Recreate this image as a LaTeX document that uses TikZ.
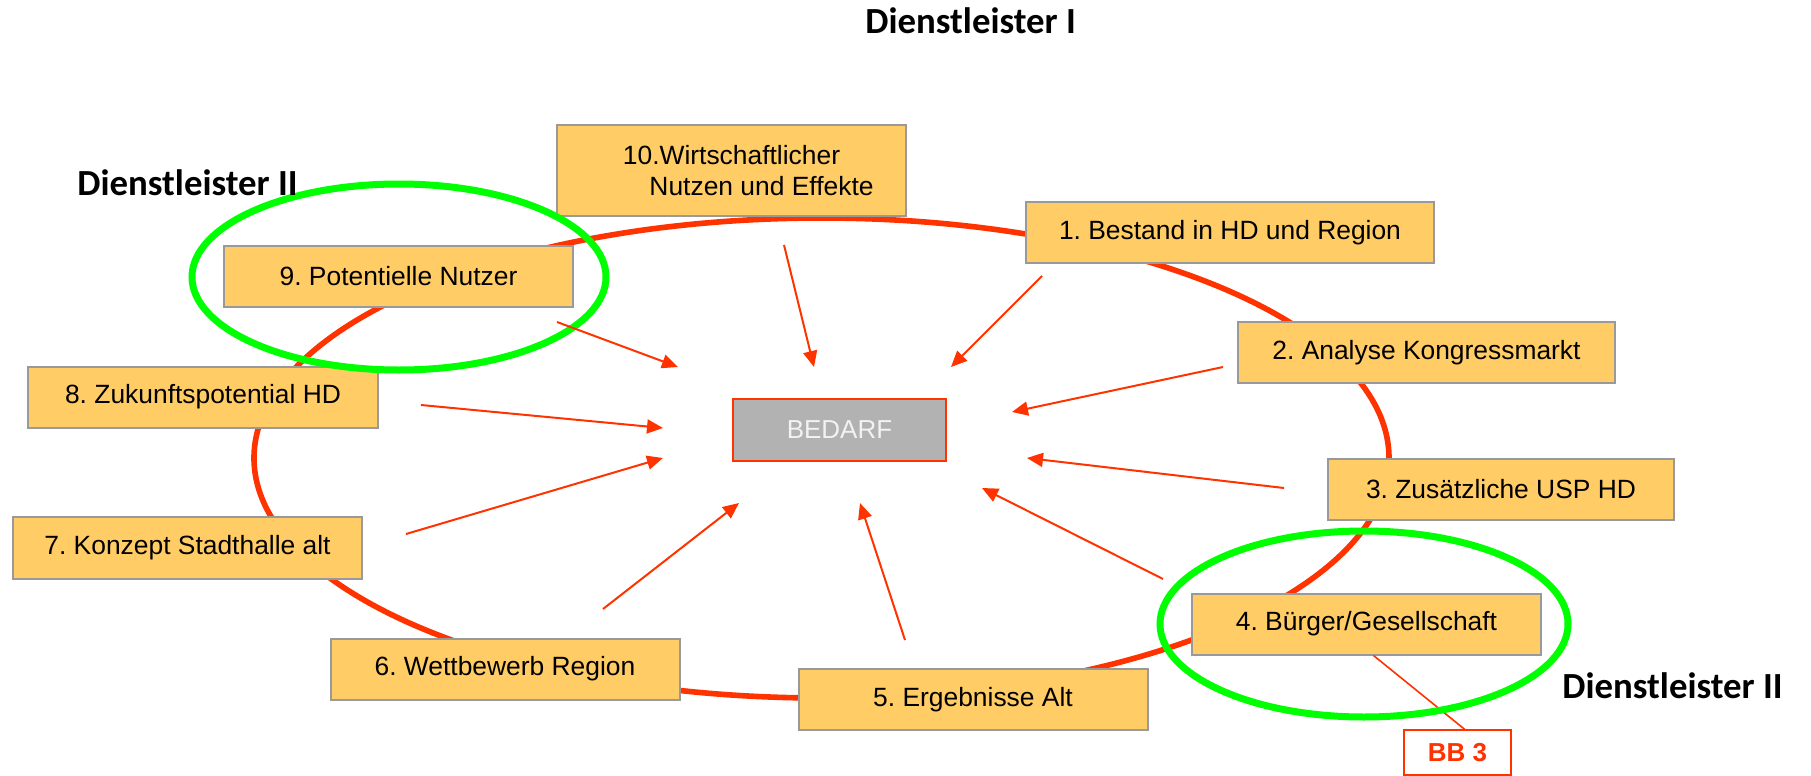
\documentclass[tikz,border=0pt]{standalone}
\usepackage{fontspec}
\setmainfont{Liberation Sans}
\newfontfamily\titlefont{Carlito}
\usetikzlibrary{arrows.meta}
\frenchspacing

\definecolor{boxfill}{HTML}{FFCC66}
\definecolor{boxline}{HTML}{999999}
\definecolor{bedarfgray}{HTML}{B2B2B2}
\definecolor{arrowred}{HTML}{FF3300}
\definecolor{ringgreen}{HTML}{00FF00}

\tikzset{
	field/.style={draw=boxline, fill=boxfill, line width=1pt, inner sep=0pt,
		minimum width=174.5pt, minimum height=30.5pt,
		font=\fontsize{13.2}{15.5}\selectfont},
	towards/.style={arrowred, line width=1pt, -{Triangle[length=8pt,width=7pt]}},
	provider/.style={font=\titlefont\bfseries\fontsize{18.4}{22}\selectfont, inner sep=0pt},
}

\begin{document}
\begin{tikzpicture}[x=0.5pt,y=-0.5pt]
			\useasboundingbox (0,0) rectangle (1811,776);
			% the ring behind the fields
			\draw[arrowred, line width=2.8pt] (821.5,458) ellipse [x radius=283.75pt, y radius=120pt];

			\node[field, align=center, minimum width=174.5pt, minimum height=45.5pt] (nutzen) at (731.5,170.5)
				{10.Wirtschaftlicher\\\hspace*{30pt}Nutzen und Effekte};
			\node[field, minimum width=204pt]   (bestand)    at (1230,232.5)  {1. Bestand in HD und Region};
			\node[field, minimum width=188.5pt] (analyse)    at (1426.5,352.5) {2. Analyse Kongressmarkt};
			\node[field, minimum width=173pt]   (usp)        at (1501,489)    {3. Zusätzliche USP HD};
			\node[field]                        (buerger)    at (1366.5,624)  {4. Bürger/Gesellschaft};
			\node[field]                        (ergebnisse) at (973,699.5)   {5. Ergebnisse Alt};
			\node[field]                        (wettbewerb) at (505,669)     {6. Wettbewerb Region};
			\node[field, minimum height=31pt]   (konzept)    at (187.5,548)   {7. Konzept Stadthalle alt};
			\node[field, minimum width=175pt]   (zukunft)    at (203,397)     {8. Zukunftspotential HD};
			\node[field]                        (nutzer)     at (398.5,276.5) {9. Potentielle Nutzer};

			\node[draw=arrowred, fill=bedarfgray, line width=1pt, text=white!95!black,
				minimum width=106.5pt, minimum height=31pt, inner sep=0pt,
				font=\fontsize{13}{15}\selectfont] (bedarf) at (839.5,430) {BEDARF};

			\node[draw=arrowred, fill=white, line width=0.8pt, text=arrowred,
				minimum width=53.5pt, minimum height=22.5pt, inner sep=0pt,
				font=\bfseries\fontsize{13}{15}\selectfont] (bb) at (1457.5,752.5) {BB 3};
			\draw[arrowred, line width=0.8pt] ([xshift=3.5pt]buerger.south) -- ([xshift=3.5pt]bb.north);

			% groups of providers
			\draw[ringgreen, line width=3.5pt] (399,277) ellipse [x radius=103.5pt, y radius=46.5pt];
			\draw[ringgreen, line width=3.5pt] (1364,624) ellipse [x radius=102pt, y radius=46.5pt];

			\node[provider, anchor=base west] (dienstI)   at (865,33)   {Dienstleister I};
			\node[provider, anchor=base west] (dienstIIa) at (77,195)   {Dienstleister II};
			\node[provider, anchor=base west] (dienstIIb) at (1562,698) {Dienstleister II};

			% arrows into the demand
			\coordinate (t10) at (784,245);  \coordinate (h10) at (814,367);
			\coordinate (t1)  at (1042,276); \coordinate (h1)  at (951,367);
			\coordinate (t2)  at (1223,367); \coordinate (h2)  at (1012,412);
			\coordinate (t3)  at (1284,488); \coordinate (h3)  at (1027,458);
			\coordinate (t4)  at (1163,579); \coordinate (h4)  at (982,488);
			\coordinate (t5)  at (905,640);  \coordinate (h5)  at (860,503);
			\coordinate (t6)  at (603,609);  \coordinate (h6)  at (739,503);
			\coordinate (t7)  at (406,534);  \coordinate (h7)  at (663,458);
			\coordinate (t8)  at (421,405);  \coordinate (h8)  at (663,428);
			\coordinate (t9)  at (557,322);  \coordinate (h9)  at (678,367);
			\foreach \i in {1,...,10}
				\draw[towards] (t\i) -- (h\i);
		\end{tikzpicture}
\end{document}
